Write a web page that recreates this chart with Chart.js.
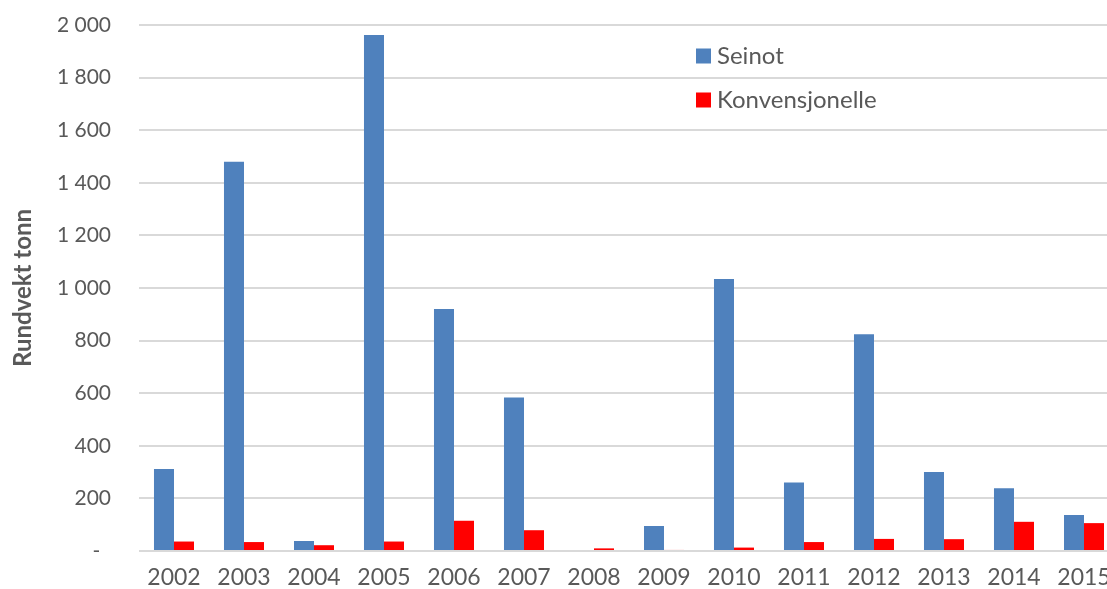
<!DOCTYPE html>
<html>
<head>
<meta charset="utf-8">
<script src="https://cdn.jsdelivr.net/npm/chart.js@4/dist/chart.umd.min.js"></script>
<style>
  html, body { margin: 0; padding: 0; background: #fff; overflow: hidden; }
  #wrap { width: 1107px; height: 589px; overflow: hidden; }
  canvas { display: block; }
</style>
</head>
<body>
<div id="wrap"><canvas id="c" width="1119" height="589"></canvas></div>
<script>
const years = ['2002','2003','2004','2005','2006','2007','2008','2009','2010','2011','2012','2013','2014','2015'];
const seinot = [312, 1480, 38, 1962, 920, 584, 0, 95, 1034, 260, 824, 300, 239, 137];
const konvensjonelle = [36, 34, 22, 36, 115, 79, 10, 4, 13, 34, 46, 45, 111, 106];
const seriesNames = ['Seinot', 'Konvensjonelle'];
const seriesColors = ['#4F81BD', '#FF0000'];
const yTicks = [0, 200, 400, 600, 800, 1000, 1200, 1400, 1600, 1800, 2000];
const yTitle = 'Rundvekt tonn';

const FONT = 'Lato, "Open Sans", sans-serif';
const TXT = '#595959';

const legendPlugin = {
  id: 'insideLegend',
  afterDraw(chart) {
    const ctx = chart.ctx;
    ctx.save();
    ctx.font = '24px ' + FONT;
    ctx.textBaseline = 'middle';
    ctx.textAlign = 'left';
    chart.data.datasets.forEach((ds, i) => {
      const cy = 56 + i * 44;
      ctx.fillStyle = ds.backgroundColor;
      ctx.fillRect(696, cy - 7.5, 15, 15);
      ctx.fillStyle = TXT;
      ctx.fillText(ds.label, 717, cy);
    });
    ctx.restore();
  }
};

function fmt(v) {
  if (v === 0) return '-  ';
  return String(v).replace(/\B(?=(\d{3})+(?!\d))/g, ' ');
}

new Chart(document.getElementById('c'), {
  type: 'bar',
  data: {
    labels: years,
    datasets: [
      { label: seriesNames[0], data: seinot, backgroundColor: seriesColors[0], borderWidth: 0 },
      { label: seriesNames[1], data: konvensjonelle, backgroundColor: seriesColors[1], borderWidth: 0 }
    ]
  },
  options: {
    responsive: false,
    animation: false,
    devicePixelRatio: 1,
    layout: { padding: { top: 25, right: 0, left: 0, bottom: 0 } },
    datasets: { bar: { barPercentage: 1, categoryPercentage: 0.572 } },
    plugins: {
      legend: { display: false },
      tooltip: { enabled: false }
    },
    scales: {
      x: {
        grid: { display: false, drawTicks: false },
        border: { display: false },
        ticks: { color: TXT, font: { family: FONT, size: 23 }, padding: 13, maxRotation: 0, autoSkip: false },
        afterFit(scale) { scale.height = 38; scale.paddingLeft = 0; scale.paddingRight = 0; }
      },
      y: {
        min: 0, max: 2000,
        afterBuildTicks(scale) { scale.ticks = yTicks.map(v => ({ value: v })); },
        grid: { color: '#d9d9d9', lineWidth: 2, drawTicks: false },
        border: { display: false },
        ticks: { color: TXT, font: { family: FONT, size: 21 }, padding: 28, callback: fmt },
        title: { display: true, text: yTitle, color: TXT, font: { family: FONT, size: 24, weight: 'bold' }, padding: { top: 9, bottom: 0 } },
        afterFit(scale) { scale.width = 139; scale.paddingTop = 0; scale.paddingBottom = 0; }
      }
    }
  },
  plugins: [legendPlugin]
});
</script>
</body>
</html>
